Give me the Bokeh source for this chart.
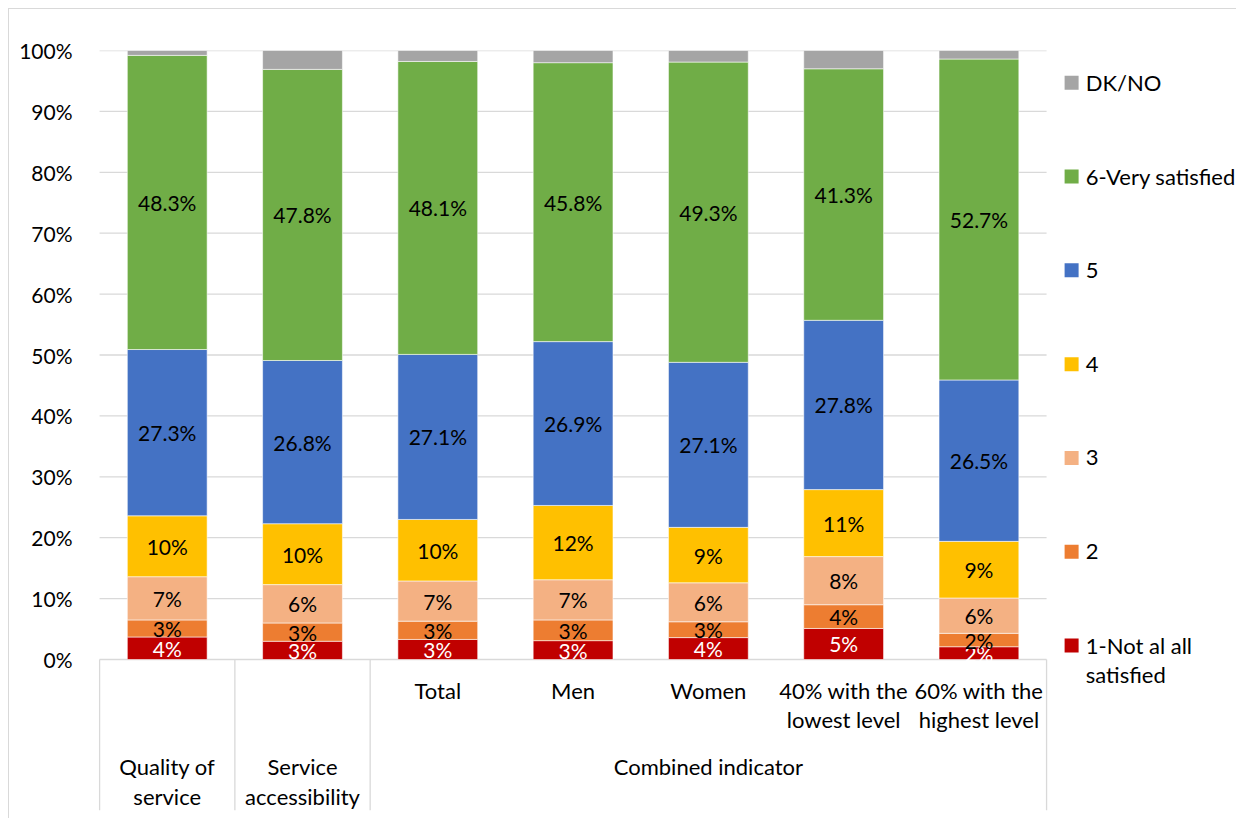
import numpy as np
from bokeh.plotting import figure
from bokeh.models import Range1d, FixedTicker, PrintfTickFormatter, ColumnDataSource
from bokeh.core.properties import value
from bokeh.embed import file_html
from bokeh.resources import INLINE

# ---------------- data ----------------
groups = ["Quality of\nservice", "Service\naccessibility", "Combined indicator"]
group_sizes = [1, 1, 5]
categories = ["", "", "Total", "Men", "Women", "40% with the\nlowest level", "60% with the\nhighest level"]

series = ["1-Not al all\nsatisfied", "2", "3", "4", "5", "6-Very satisfied", "DK/NO"]
colors = ["#C00000", "#ED7D31", "#F4B183", "#FFC000", "#4472C4", "#70AD47", "#A5A5A5"]

not_at_all = [3.7, 3.0, 3.3, 3.1, 3.6, 5.1, 2.1]
two        = [2.8, 3.0, 3.0, 3.4, 2.6, 3.9, 2.2]
three      = [7.1, 6.3, 6.6, 6.6, 6.4, 7.9, 5.8]
four       = [10.0, 10.0, 10.1, 12.2, 9.1, 11.0, 9.3]
five       = [27.3, 26.8, 27.1, 26.9, 27.1, 27.8, 26.5]
six        = [48.3, 47.8, 48.1, 45.8, 49.3, 41.3, 52.7]
dk_no      = [0.8, 3.1, 1.8, 2.0, 1.9, 3.0, 1.4]

y_ticks = [0, 10, 20, 30, 40, 50, 60, 70, 80, 90, 100]

# ---------------- figure ----------------
FONT = "Lato"
FS_NUM = "21px"
FS_TXT = "22px"
GRID = "#d9d9d9"

p = figure(width=1228, height=810,
           x_range=Range1d(-0.008, 8.3965), y_range=Range1d(-24.79, 100),
           output_backend="svg", toolbar_location=None, title=None,
           x_axis_location=None,
           min_border_left=89, min_border_right=2, min_border_top=41, min_border_bottom=9)
p.styles = {"border-left": "1px solid #d9d9d9", "border-top": "1px solid #d9d9d9",
            "margin-left": "8px", "margin-top": "8px"}
p.outline_line_color = None
p.xgrid.visible = False
p.ygrid.visible = False
p.background_fill_color = "white"
p.border_fill_color = "white"

yax = p.yaxis[0]
yax.ticker = FixedTicker(ticks=y_ticks)
yax.formatter = PrintfTickFormatter(format="%d%%")
yax.axis_line_color = None
yax.major_tick_line_color = None
yax.minor_tick_line_color = None
yax.major_label_standoff = 20
yax.major_label_text_font = FONT
yax.major_label_text_font_size = FS_NUM
yax.major_label_text_color = "#000000"

n = len(categories)
xs = np.arange(n) + 0.5

# gridlines
p.segment(x0=[0] * len(y_ticks), x1=[n] * len(y_ticks), y0=y_ticks, y1=y_ticks,
          line_color=GRID, line_width=1.3)

# category box lines
bounds = np.concatenate([[0], np.cumsum(group_sizes)])
ymin = -24.79
p.segment(x0=bounds, x1=bounds, y0=[0] * len(bounds), y1=[ymin] * len(bounds),
          line_color=GRID, line_width=1.3)

# stacked bars
vals = [not_at_all, two, three, four, five, six, dk_no]
bottom = np.zeros(n)
lx, ly, lt, lc = [], [], [], []
for i, v in enumerate(vals):
    v = np.array(v)
    top = bottom + v
    p.vbar(x=xs, bottom=bottom, top=top, width=0.59,
           fill_color=colors[i], line_color="white", line_width=0.8, line_alpha=0.7)
    if i < 6:
        for j in range(n):
            lx.append(xs[j])
            ly.append((bottom[j] + top[j]) / 2)
            if i < 4:
                lt.append(f"{int(v[j] + 0.5)}%")
            else:
                lt.append(f"{v[j]:.1f}%")
            lc.append("#FFFFFF" if i == 0 else "#000000")
    bottom = top

src = ColumnDataSource(dict(x=lx, y=ly, text=lt, color=lc))
p.text(x="x", y="y", text="text", text_color="color", source=src,
       text_font=value(FONT), text_font_size=value(FS_NUM),
       text_align="center", text_baseline="middle")

# category labels
line_gap = 4.84
cx, cy, ct = [], [], []
for j, c in enumerate(categories):
    for k, line in enumerate(c.split("\n")):
        if line:
            cx.append(xs[j]); cy.append(-5.09 - k * line_gap); ct.append(line)
for g, (a, b) in enumerate(zip(bounds[:-1], bounds[1:])):
    for k, line in enumerate(groups[g].split("\n")):
        cx.append((a + b) / 2); cy.append(-17.57 - k * line_gap); ct.append(line)
p.text(x=cx, y=cy, text=ct, text_color="#000000",
       text_font=value(FONT), text_font_size=value(FS_TXT),
       text_align="center", text_baseline="middle")

# legend (manual, top = last series)
leg_sq_x = 7.185
leg_tx_x = 7.29
leg_top = 94.7
leg_step = 15.4
sx, sy, sc = [], [], []
tx, ty, tt = [], [], []
for r, i in enumerate(range(len(series) - 1, -1, -1)):
    yy = leg_top - r * leg_step
    sx.append(leg_sq_x); sy.append(yy); sc.append(colors[i])
    for k, line in enumerate(series[i].split("\n")):
        tx.append(leg_tx_x); ty.append(yy - k * line_gap); tt.append(line)
p.scatter(x=sx, y=sy, marker="square", size=14, fill_color=sc, line_color=None)
p.text(x=tx, y=ty, text=tt, text_color="#000000",
       text_font=value(FONT), text_font_size=value(FS_TXT),
       text_align="left", text_baseline="middle")

open("out.html", "w").write(file_html(p, INLINE))
